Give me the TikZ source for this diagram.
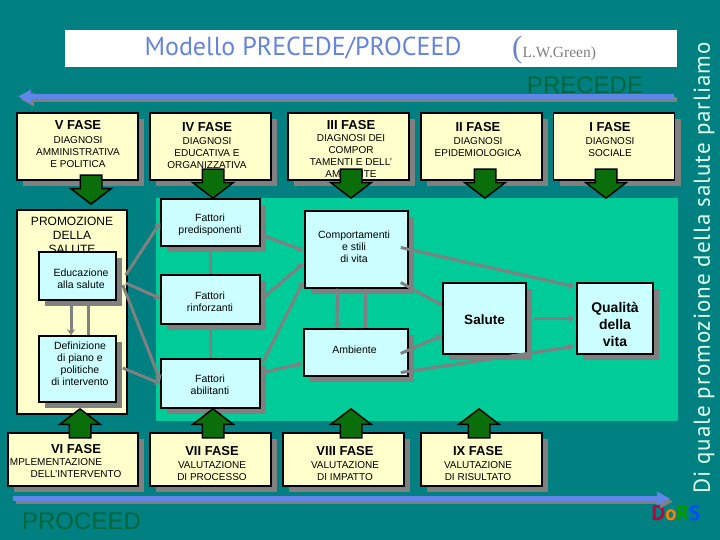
\documentclass[tikz,border=0pt]{standalone}
\usepackage{fontspec}
\setmainfont{Liberation Sans}
\newfontfamily\handfont{PT Sans}
\newfontfamily\serifnote{Liberation Serif}
\usetikzlibrary{arrows.meta,shadows,shapes.arrows}
\definecolor{tealbg}{RGB}{0,128,128}
\definecolor{greenbg}{RGB}{0,204,153}
\definecolor{paleyellow}{RGB}{255,255,204}
\definecolor{palecyan}{RGB}{204,255,255}
\definecolor{bluearrow}{RGB}{95,134,232}
\definecolor{darkarrow}{RGB}{10,110,10}
\definecolor{darklabel}{RGB}{0,102,60}
\tikzset{
    boxed/.style={draw=black,line width=1.5pt,inner sep=0pt,minimum width=#1pt},
    fase/.style={boxed=#1,fill=paleyellow,drop shadow={shadow xshift=6pt,shadow yshift=-6pt,fill=gray,opacity=1}},
    factor/.style={boxed=#1,fill=palecyan,drop shadow={shadow xshift=6pt,shadow yshift=-6pt,fill=gray,opacity=1}},
    factortxt/.style={align=center,inner sep=0pt,font=\fontsize{10.5}{12}\selectfont},
    fasetxt/.style={anchor=north,align=center,inner sep=0pt,font=\fontsize{10}{12}\selectfont},
    link/.style={draw=gray,line width=3pt,-{Stealth[length=6pt,width=8pt]}},
    plainlink/.style={draw=gray,line width=3pt},
    bigarrow/.style={single arrow,draw=black,line width=1.5pt,fill=darkarrow,inner sep=0pt,minimum height=29pt,single arrow head extend=9.5pt,single arrow tip angle=105},
    timeline/.style={line width=5pt,draw=bluearrow,-{Triangle[length=13pt,width=13pt]}},
    timeshadow/.style={line width=5pt,draw=gray,-{Triangle[length=13pt,width=13pt]}},
}
\begin{document}
\begin{tikzpicture}[x=1pt,y=-1pt]
    \useasboundingbox (0,0) rectangle (720,540);
    \fill[tealbg] (0,0) rectangle (720,540);
    \fill[white] (65,30) rectangle (677,67);
    \fill[greenbg] (156,198) rectangle (678,421);
    % titles
    \node[text=bluearrow!85!gray,font=\handfont\fontsize{26}{26}\selectfont] (title) at (303,48) {Modello PRECEDE/PROCEED};
    \node[anchor=west,inner sep=0pt,text=gray] (author) at (512,50) {{\fontsize{31}{31}\selectfont\color{bluearrow!70!gray}\serifnote (}{\serifnote\fontsize{15.5}{15.5}\selectfont L.W.Green)}};
    \node[text=darklabel,font=\fontsize{24}{24}\selectfont] (precede) at (585,85.5) {PRECEDE};
    \node[text=darklabel,font=\fontsize{24}{24}\selectfont] (proceed) at (81.5,521) {PROCEED};
    \node[rotate=90,text=palecyan!60!paleyellow,font=\handfont\fontsize{23}{23}\selectfont\addfontfeatures{LetterSpace=4.2}] (side) at (704,268) {Di quale promozione della salute parliamo};
    \node[font=\handfont\bfseries\fontsize{21}{21}\selectfont] (dors) at (676,513) {\textcolor{purple}{D}\textcolor{orange}{o}\textcolor{green!60!black}{R}\textcolor{blue!70!cyan}{S}};
    % time lines
    \coordinate (topR) at (674,96.5);
    \coordinate (topL) at (18,96.5);
    \coordinate (botL) at (13,498.5);
    \coordinate (botR) at (670,498.5);
    \draw[timeshadow] ([shift={(3,3)}]topR) -- ([shift={(3,3)}]topL);
    \draw[timeline] (topR) -- (topL);
    \draw[timeshadow] ([shift={(3,3)}]botL) -- ([shift={(3,3)}]botR);
    \draw[timeline] (botL) -- (botR);
    % upper phases
    \node[fase=121,minimum height=67pt] (f5) at (77.5,146.5) {};
    \node[fase=121,minimum height=67pt] (f4) at (210.5,146.5) {};
    \node[fase=121,minimum height=67pt] (f3) at (348.5,146.5) {};
    \node[fase=121,minimum height=67pt] (f2) at (481.5,146.5) {};
    \node[fase=121,minimum height=67pt] (f1) at (614,146.5) {};
    \node[fasetxt] (t5) at (78,120) {{\fontsize{13}{13}\selectfont\bfseries V FASE}\\[2pt]DIAGNOSI\\AMMINISTRATIVA\\E POLITICA};
    \node[fasetxt] (t4) at (207,122) {{\fontsize{13}{13}\selectfont\bfseries IV FASE}\\[1pt]DIAGNOSI\\EDUCATIVA E\\ORGANIZZATIVA};
    \node[fasetxt] (t3) at (351,120) {{\fontsize{13}{13}\selectfont\bfseries III FASE}\\DIAGNOSI DEI\\COMPOR\\TAMENTI E DELL'\\AMBIENTE};
    \node[fasetxt] (t2) at (478,122) {{\fontsize{13}{13}\selectfont\bfseries II FASE}\\[1pt]DIAGNOSI\\EPIDEMIOLOGICA};
    \node[fasetxt] (t1) at (610,122) {{\fontsize{13}{13}\selectfont\bfseries I FASE}\\[1pt]DIAGNOSI\\SOCIALE};
    % lower phases
    \node[fase=130,minimum height=53pt] (f6) at (73,459.5) {};
    \node[fase=121,minimum height=53pt] (f7) at (210.5,459.5) {};
    \node[fase=121,minimum height=53pt] (f8) at (343.5,459.5) {};
    \node[fase=121,minimum height=53pt] (f9) at (481.5,459.5) {};
    \node[fasetxt] (t6) at (76,444) {{\fontsize{13}{13}\selectfont\bfseries VI FASE}};
    \node[fasetxt] (t6a) at (56,458) {MPLEMENTAZIONE};
    \node[fasetxt] (t6b) at (76,470.5) {DELL'INTERVENTO};
    \node[fasetxt] (t7) at (212,446) {{\fontsize{13}{13}\selectfont\bfseries VII FASE}\\[1pt]VALUTAZIONE\\DI PROCESSO};
    \node[fasetxt] (t8) at (345,446) {{\fontsize{13}{13}\selectfont\bfseries VIII FASE}\\[1pt]VALUTAZIONE\\DI IMPATTO};
    \node[fasetxt] (t9) at (478,446) {{\fontsize{13}{13}\selectfont\bfseries IX FASE}\\[1pt]VALUTAZIONE\\DI RISULTATO};
    % promozione column
    \node[boxed=110,fill=paleyellow,minimum height=204pt] (promo) at (72,312) {};
    \node[align=center,inner sep=0pt,anchor=north,font=\fontsize{12}{14}\selectfont] (promotxt) at (72,217) {PROMOZIONE\\DELLA\\SALUTE};
    \node[factor=77,minimum height=48pt] (edu) at (77.5,276) {};
    \node[factortxt] (edutxt) at (81,279) {Educazione\\alla salute};
    \node[factor=77,minimum height=66pt] (defi) at (77.5,369) {};
    \node[factortxt] (defitxt) at (80,364) {Definizione\\di piano e\\politiche\\di intervento};
    % fattori
    \node[factor=99,minimum height=47pt] (pred) at (210.5,222.5) {};
    \node[factortxt] (predtxt) at (210,224.5) {Fattori\\predisponenti};
    \node[factor=99,minimum height=49pt] (rinf) at (210.5,299.5) {};
    \node[factortxt] (rinftxt) at (210,302) {Fattori\\rinforzanti};
    \node[factor=99,minimum height=49pt] (abil) at (210.5,383.5) {};
    \node[factortxt] (abiltxt) at (210,385) {Fattori\\abilitanti};
    \node[factor=103,minimum height=77pt] (comp) at (356.5,249.5) {};
    \node[factortxt] (comptxt) at (354,247) {Comportamenti\\e stili\\di vita};
    \node[factor=104,minimum height=47pt] (amb) at (356,352.5) {};
    \node[factortxt] (ambtxt) at (354.5,350) {Ambiente};
    \node[factor=83,minimum height=71pt] (sal) at (484.5,318.5) {};
    \node[factortxt,font=\fontsize{13.5}{16}\selectfont\bfseries] (saltxt) at (484.5,320) {Salute};
    \node[factor=76,minimum height=71pt] (qual) at (615,318.5) {};
    \node[factortxt,font=\fontsize{14}{16.7}\selectfont\bfseries] (qualtxt) at (615,324.5) {Qualità\\della\\vita};
    % connectors
    \draw[link] ([shift={(9,-1)}]edu.east) -- (pred.west);
    \draw[link] ([shift={(9,7)}]edu.east) -- ([shift={(0,-1)}]rinf.west);
    \draw[link] ([shift={(6,9)}]edu.east) -- ([shift={(0,-3)}]abil.west);
    \draw[link] ([shift={(6,-1)}]defi.east) -- (abil.west);
    \draw[link] ([xshift=-6.5pt]edu.south) -- ([xshift=-6.5pt]defi.north);
    \draw[plainlink] ([xshift=10.5pt]edu.south) -- ([xshift=10.5pt]defi.north);
    \draw[plainlink] (pred.south) -- (rinf.north);
    \draw[plainlink] (rinf.south) -- (abil.north);
    \draw[link] ([shift={(5,14)}]pred.east) -- ([shift={(-1,1)}]comp.west);
    \draw[link] ([shift={(3,-2)}]rinf.east) -- ([shift={(-1,14)}]comp.west);
    \draw[link] ([shift={(2,-21)}]abil.east) -- ([shift={(-1,32)}]comp.west);
    \draw[link] ([shift={(2,-11)}]abil.east) -- ([shift={(-1,11)}]amb.west);
    \draw[link] ([shift={(-8,-2)}]comp.east) -- ([shift={(-2,-32)}]qual.west);
    \draw[link] ([shift={(-8,33)}]comp.east) -- ([shift={(0,-13)}]sal.west);
    \draw[link] ([shift={(-8,1)}]amb.east) -- ([shift={(0,17)}]sal.west);
    \draw[link] ([shift={(-8,20)}]amb.east) -- ([shift={(-2,28)}]qual.west);
    \draw[link] ([xshift=7pt]sal.east) -- ([xshift=-2pt]qual.west);
    \draw[link] ([xshift=-19pt]comp.south) -- ([xshift=-19pt]amb.north);
    \draw[plainlink] ([xshift=8.5pt]comp.south) -- ([xshift=9pt]amb.north);
    % big arrows
    \node[bigarrow,rotate=-90] (a5) at (91,185.5) {\rule{0pt}{20pt}};
    \node[bigarrow,rotate=-90] (a4) at (213,179.5) {\rule{0pt}{20pt}};
    \node[bigarrow,rotate=-90] (a3) at (351,179.5) {\rule{0pt}{20pt}};
    \node[bigarrow,rotate=-90] (a2) at (485,179.5) {\rule{0pt}{20pt}};
    \node[bigarrow,rotate=-90] (a1) at (606,179.5) {\rule{0pt}{20pt}};
    \node[bigarrow,rotate=90] (a6) at (80,427.5) {\rule{0pt}{20pt}};
    \node[bigarrow,rotate=90] (a7) at (213,427.5) {\rule{0pt}{20pt}};
    \node[bigarrow,rotate=90] (a8) at (351,427.5) {\rule{0pt}{20pt}};
    \node[bigarrow,rotate=90] (a9) at (479,427.5) {\rule{0pt}{20pt}};
\end{tikzpicture}
\end{document}
